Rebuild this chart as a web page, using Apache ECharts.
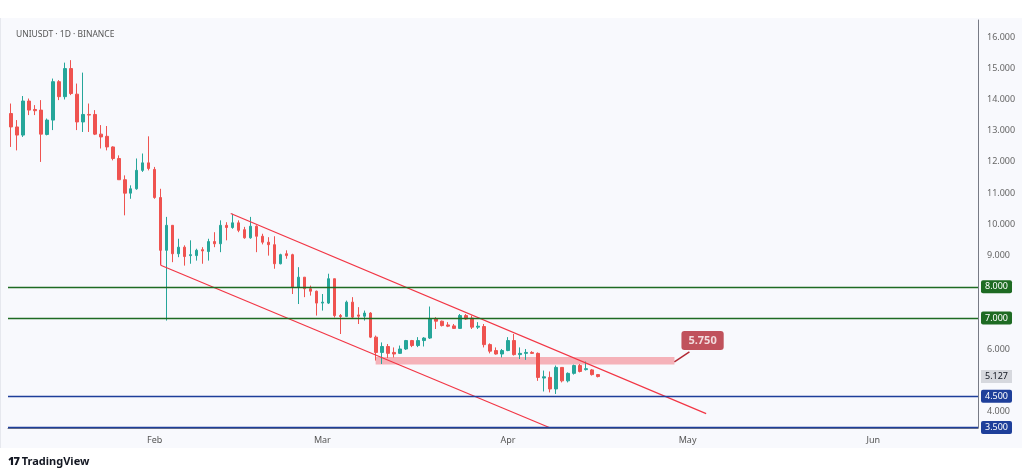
<!DOCTYPE html>
<html><head><meta charset="utf-8">
<script src="https://cdn.jsdelivr.net/npm/echarts@6/dist/echarts.min.js"></script>
<style>
html,body{margin:0;padding:0;background:#fff;}
#bg{position:absolute;left:0;top:18px;width:1021px;height:430px;background:#f8f9fd;border-left:1px solid #e6e8ee;}
#c{position:absolute;left:0;top:0;width:1024px;height:472px;}
#tv{position:absolute;left:8px;top:453px;font:bold 11px 'Noto Sans',sans-serif;color:#131722;}
</style></head><body>
<div id="bg"></div><div id="c"></div>
<div id="tv"><span style="font-weight:900;letter-spacing:-1px">17</span> TradingView</div>
<script>
// candles Jan 8 – Apr 16: [open, close, low, high]
const opens  = [13.55,13.12,12.86,13.95,13.68,13.66,12.88,13.34,14.57,14.09,14.99,14.17,13.28,13.52,13.52,12.89,12.82,12.48,12.11,11.43,11.0,11.14,11.73,11.97,11.76,10.86,9.17,9.97,9.06,9.27,9.0,9.0,9.19,9.13,9.45,9.38,9.97,9.9,10.05,9.83,9.57,9.94,9.62,9.43,9.35,8.74,9.06,9.03,7.99,8.31,7.94,7.86,7.48,7.48,8.26,7.08,7.05,7.51,7.1,7.06,7.16,6.39,5.9,6.09,5.9,5.87,6.01,6.28,6.12,6.28,6.36,6.97,6.9,6.78,6.75,6.67,7.08,7.0,6.71,6.73,6.15,5.96,5.85,5.96,6.28,5.83,5.87,5.9,5.87,5.08,5.1,4.73,5.42,4.99,5.23,5.48,5.35,5.34,5.19];
const closes = [13.12,12.86,13.95,13.66,13.64,12.89,13.34,14.57,14.09,14.99,14.19,13.28,13.52,13.50,12.89,12.80,12.48,12.11,11.43,11.0,11.14,11.73,11.97,11.79,10.86,9.17,9.97,9.06,9.27,8.97,9.03,9.17,9.15,9.45,9.38,9.97,9.9,10.05,9.81,9.57,9.94,9.62,9.43,9.35,8.74,9.03,9.0,7.99,8.31,7.94,7.86,7.48,7.51,8.26,7.08,7.05,7.51,7.03,7.06,7.16,6.39,5.9,6.09,5.87,5.85,6.01,6.28,6.12,6.28,6.36,6.97,6.9,6.76,6.74,6.67,7.08,6.97,6.71,6.74,6.15,5.94,5.85,5.96,6.28,5.83,5.87,5.9,5.87,5.1,5.12,4.73,5.42,4.99,5.23,5.48,5.29,5.38,5.19,5.127];
const lows   = [12.48,12.37,12.8,13.5,13.5,12.0,12.85,13.02,13.98,14.0,14.14,13.02,12.96,12.96,12.86,12.43,12.37,12.05,11.43,10.29,10.82,11.11,11.68,11.73,10.82,8.74,6.92,8.79,8.95,8.68,8.74,8.84,8.74,8.84,9.27,9.11,9.49,9.86,9.75,9.54,9.54,9.11,9.36,9.0,8.58,8.72,8.9,7.77,7.45,7.67,7.72,7.08,7.24,7.45,7.02,6.49,7.03,6.97,6.81,6.92,6.36,5.64,5.53,5.72,5.74,5.85,5.98,6.07,6.07,6.09,6.33,6.65,6.73,6.71,6.65,6.65,6.94,6.65,6.65,6.06,5.87,5.83,5.74,5.94,5.8,5.69,5.66,5.85,4.99,4.65,4.62,4.57,4.94,4.94,5.19,5.26,5.32,5.16,5.1];
const highs  = [13.87,13.34,14.11,14.03,13.82,13.98,13.39,14.67,14.62,15.18,15.26,14.51,14.86,13.87,13.66,13.18,13.15,12.5,12.21,11.57,11.25,12.11,12.27,12.82,11.84,11.14,10.24,9.97,9.54,9.33,9.49,9.22,9.27,9.54,9.75,10.13,10.07,10.34,10.13,9.92,10.24,9.97,9.7,9.59,9.62,9.06,9.17,9.06,8.63,8.31,8.04,7.88,7.77,8.42,8.26,7.13,7.56,7.67,7.35,7.24,7.19,6.44,6.22,6.17,6.06,6.12,6.3,6.3,6.39,6.39,7.37,7.03,6.92,6.87,6.81,7.13,7.13,7.08,6.87,6.81,6.19,6.06,6.01,6.39,6.49,6.06,6.01,5.94,5.9,5.32,5.29,5.48,5.42,5.26,5.51,5.53,5.61,5.37,5.21];
const startDate = [2025,0,8];
const totalDays = 162;
const monthNames = ['Jan','Feb','Mar','Apr','May','Jun'];
const greenLevels = [8.0, 7.0];
const blueLevels = [4.5, 3.5];
const lastPrice = 5.127;
const upperChannel = [[36.7,10.35],[116.1,3.94]];
const lowerChannel = [[25.0,8.69],[90.0,3.49]];
const lowerStub = [[25.0,9.17],[25.0,8.69]];
const zone = {x0:60.9, x1:110.8, y0:5.51, y1:5.75, label:'5.750'};
const calloutPointer = [[110.8,5.6],[113.3,5.92]];
const calloutPos = [115.5,6.28];

const cats=[], labelsShown={};
for(let i=0;i<totalDays;i++){
  const d=new Date(startDate[0],startDate[1],startDate[2]+i);
  const k=(d.getMonth()+1)+'/'+d.getDate();
  cats.push(k);
  if(d.getDate()===1) labelsShown[k]=monthNames[d.getMonth()];
}
const candles = opens.map((o,i)=>[o,closes[i],lows[i],highs[i]]);
const lvl=(v,c)=>({yAxis:v,lineStyle:{color:c,width:1.3,type:'solid'},
  label:{show:true,position:'end',formatter:v.toFixed(3),color:'#fff',backgroundColor:c,padding:[2,4],fontSize:9,borderRadius:2,distance:3}});
const chart=echarts.init(document.getElementById('c'));
const font="'Noto Sans',sans-serif";
chart.setOption({
  animation:false,
  textStyle:{fontFamily:font},
  title:{text:'UNIUSDT · 1D · BINANCE',left:11,top:25,textStyle:{fontSize:8.5,fontWeight:'normal',color:'#555',fontFamily:font}},
  grid:{left:8,right:46,top:20,bottom:44},
  xAxis:[{type:'category',data:cats,boundaryGap:true,
    axisLine:{lineStyle:{color:'#787b86'}},axisTick:{show:false},
    axisLabel:{interval:0,fontSize:9,color:'#555',formatter:v=>labelsShown[v]||''},splitLine:{show:false}},
    {type:'value',min:-0.5,max:totalDays-0.5,show:false}],
  yAxis:{type:'value',position:'right',min:3.48,max:16.545,splitNumber:13,
    axisLine:{show:true,onZero:false,lineStyle:{color:'#787b86'}},axisTick:{show:false},splitLine:{show:false},
    axisLabel:{fontSize:9,color:'#666',formatter:v=>v.toFixed(3),showMinLabel:false,showMaxLabel:false,margin:9}},
  series:[
    {type:'candlestick',data:candles,barMaxWidth:4.2,
     itemStyle:{color:'#26a69a',color0:'#ef5350',borderColor:'#26a69a',borderColor0:'#ef5350',borderWidth:1},
     markLine:{symbol:'none',silent:true,data:[...greenLevels.map(v=>lvl(v,'#1e6b23')),...blueLevels.map(v=>lvl(v,'#1e3f9a')),
       {yAxis:lastPrice,lineStyle:{color:'rgba(0,0,0,0)',width:0},label:{show:true,position:'end',formatter:lastPrice.toFixed(3),color:'#131722',backgroundColor:'#d6d8de',padding:[2,4],fontSize:9,distance:3}}]}},
    {type:'line',xAxisIndex:1,data:upperChannel,symbol:'none',lineStyle:{color:'#f23645',width:1.2}},
    {type:'line',xAxisIndex:1,data:lowerChannel,symbol:'none',lineStyle:{color:'#f23645',width:1.2}},
    {type:'line',xAxisIndex:1,data:lowerStub,symbol:'none',lineStyle:{color:'#f23645',width:1.2}},
    {type:'line',xAxisIndex:1,data:calloutPointer,symbol:'none',lineStyle:{color:'#b22833',width:1.5}},
    {type:'scatter',xAxisIndex:1,data:[[zone.x0,zone.y0]],symbolSize:0,
     markArea:{silent:true,itemStyle:{color:'rgba(242,120,130,0.55)'},data:[[{coord:[zone.x0,zone.y0]},{coord:[zone.x1,zone.y1]}]]}},
    {type:'scatter',xAxisIndex:1,data:[calloutPos],symbolSize:0,
     label:{show:true,position:'inside',formatter:zone.label,color:'#fff',backgroundColor:'#b22833',padding:[4,7],fontSize:11,fontWeight:'bold',borderRadius:3}}
  ]
});
</script></body></html>
